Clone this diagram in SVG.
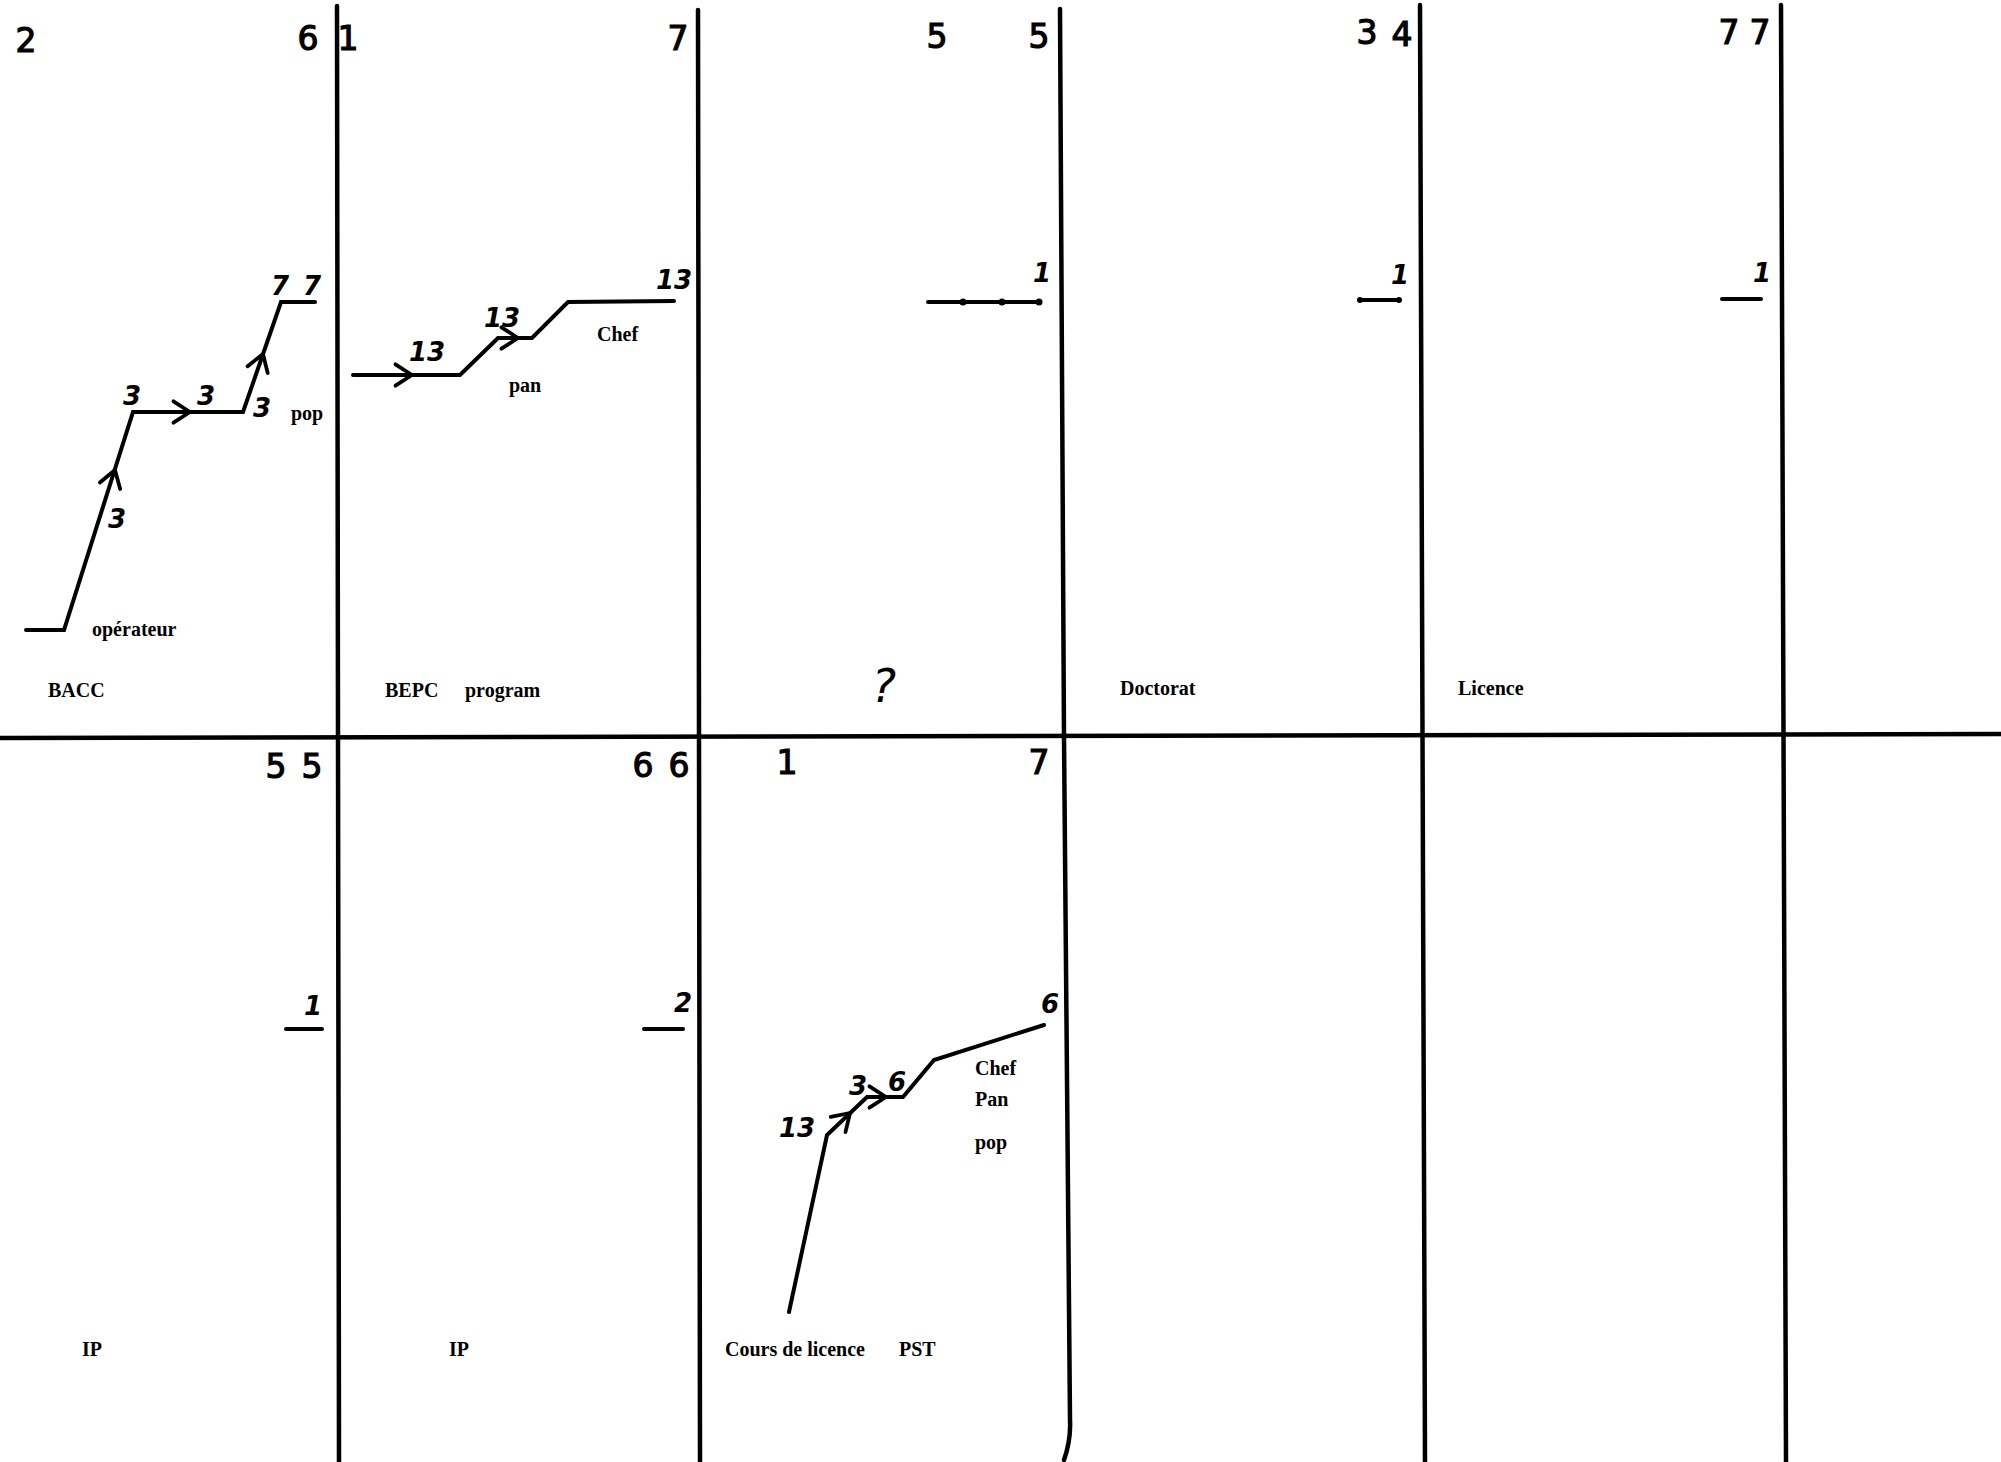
<svg xmlns="http://www.w3.org/2000/svg" width="2001" height="1462" viewBox="0 0 2001 1462">
<style>
.grid{fill:none;stroke:#000;stroke-width:4.5;stroke-linecap:round}
.chart{fill:none;stroke:#000;stroke-width:4;stroke-linejoin:miter;stroke-linecap:round}
.hd{font-family:"DejaVu Sans","Liberation Sans",sans-serif;font-size:33px;fill:#000;stroke:#000;stroke-width:1.2;text-anchor:middle;dominant-baseline:central}
.num{font-family:"DejaVu Sans","Liberation Sans",sans-serif;font-size:26px;font-weight:bold;font-style:italic;fill:#000;text-anchor:middle;dominant-baseline:central}
.lbl{font-family:"Liberation Serif","Times New Roman",serif;font-size:20px;font-weight:bold;fill:#000}
.q{font-family:"DejaVu Sans","Liberation Sans",sans-serif;font-size:46px;font-style:italic;fill:#000;text-anchor:middle}
.ah{fill:none;stroke:#000;stroke-width:3.5}
</style>
<defs>
<marker id="chev" viewBox="-2 -2 18 22" refX="14" refY="9" markerWidth="22" markerHeight="26" markerUnits="userSpaceOnUse" orient="auto" overflow="visible">
<path d="M0,0 L14,9 L0,18" fill="none" stroke="#000" stroke-width="3.2" stroke-linecap="round" stroke-linejoin="round"/>
</marker>
</defs>
<rect width="2001" height="1462" fill="#fff"/>
<g id="grid">
<path class="grid" d="M0,738 L2001,734"/>
<path class="grid" d="M337,6 L339,1462"/>
<path class="grid" d="M698,10 L700,1462"/>
<path class="grid" d="M1060,9 L1064,737 L1070,1420 Q1071,1440 1064,1460"/>
<path class="grid" d="M1420,5 L1425,1462"/>
<path class="grid" d="M1781,5 L1786,1462"/>
</g>
<g id="headers">
<text class="hd" x="26" y="40">2</text>
<text class="hd" x="308" y="38">6</text>
<text class="hd" x="348" y="38">1</text>
<text class="hd" x="678" y="38">7</text>
<text class="hd" x="937" y="36">5</text>
<text class="hd" x="1039" y="36">5</text>
<text class="hd" x="1367" y="32">3</text>
<text class="hd" x="1402" y="34">4</text>
<text class="hd" x="1729" y="32">7</text>
<text class="hd" x="1760" y="32">7</text>
<text class="hd" x="276" y="766">5</text>
<text class="hd" x="312" y="766">5</text>
<text class="hd" x="643" y="765">6</text>
<text class="hd" x="679" y="765">6</text>
<text class="hd" x="787" y="762">1</text>
<text class="hd" x="1039" y="762">7</text>
</g>
<g id="connectors">
<path class="chart" d="M26,630 L64,630 L133,412 L243,412 L281,302 L315,302"/>
<path class="chart" d="M353,375 L460,375 L498,338 L532,338 L568,302 L674,301"/>
<path class="chart" d="M928,302 L1039,302"/>
<path class="chart" d="M1360,300 L1399,300"/>
<path class="chart" d="M1722,299 L1761,299"/>
<path class="chart" d="M286,1029 L322,1029"/>
<path class="chart" d="M644,1029 L683,1029"/>
<path class="chart" d="M789,1312 L827,1135 L867,1097 L903,1097 L934,1060 L1044,1025"/>
<path class="ah" marker-end="url(#chev)" d="M113.8,473.8 L115,470"/>
<path class="ah" marker-end="url(#chev)" d="M186,412 L190,412"/>
<path class="ah" marker-end="url(#chev)" d="M261.7,357.8 L263,354"/>
<path class="ah" marker-end="url(#chev)" d="M408,375 L412,375"/>
<path class="ah" marker-end="url(#chev)" d="M514,338 L518,338"/>
<path class="ah" marker-end="url(#chev)" d="M847.1,1115.8 L850,1113"/>
<path class="ah" marker-end="url(#chev)" d="M882,1097 L886,1097"/>
</g>
<g id="dots">
<circle cx="963" cy="302" r="3.5"/>
<circle cx="1002" cy="302" r="3.5"/>
<circle cx="1039" cy="302" r="3.5"/>
<circle cx="1360" cy="300" r="3"/>
<circle cx="1399" cy="300" r="3"/>
</g>
<g id="panel-bacc">
<text class="num" x="117" y="519">3</text>
<text class="num" x="132" y="396">3</text>
<text class="num" x="206" y="396">3</text>
<text class="num" x="262" y="408">3</text>
<text class="num" x="280" y="286">7</text>
<text class="num" x="312" y="286">7</text>
<text class="lbl" x="291" y="420">pop</text>
<text class="lbl" x="92" y="636">opérateur</text>
<text class="lbl" x="48" y="697">BACC</text>
</g>
<g id="panel-bepc">
<text class="num" x="427" y="352">13</text>
<text class="num" x="502" y="318">13</text>
<text class="num" x="674" y="280">13</text>
<text class="lbl" x="597" y="341">Chef</text>
<text class="lbl" x="509" y="392">pan</text>
<text class="lbl" x="385" y="697">BEPC</text>
<text class="lbl" x="465" y="697">program</text>
</g>
<g id="panel-q">
<text class="num" x="1042" y="273">1</text>
<text class="q" x="884" y="702">?</text>
</g>
<g id="panel-doctorat">
<text class="num" x="1400" y="275">1</text>
<text class="lbl" x="1120" y="695">Doctorat</text>
</g>
<g id="panel-licence">
<text class="num" x="1762" y="273">1</text>
<text class="lbl" x="1458" y="695">Licence</text>
</g>
<g id="panel-ip1">
<text class="num" x="313" y="1006">1</text>
<text class="lbl" x="82" y="1356">IP</text>
</g>
<g id="panel-ip2">
<text class="num" x="683" y="1003">2</text>
<text class="lbl" x="449" y="1356">IP</text>
</g>
<g id="panel-cours">
<text class="num" x="797" y="1128">13</text>
<text class="num" x="858" y="1086">3</text>
<text class="num" x="897" y="1082">6</text>
<text class="num" x="1050" y="1004">6</text>
<text class="lbl" x="975" y="1075">Chef</text>
<text class="lbl" x="975" y="1106">Pan</text>
<text class="lbl" x="975" y="1149">pop</text>
<text class="lbl" x="725" y="1356">Cours de licence</text>
<text class="lbl" x="899" y="1356">PST</text>
</g>
</svg>
